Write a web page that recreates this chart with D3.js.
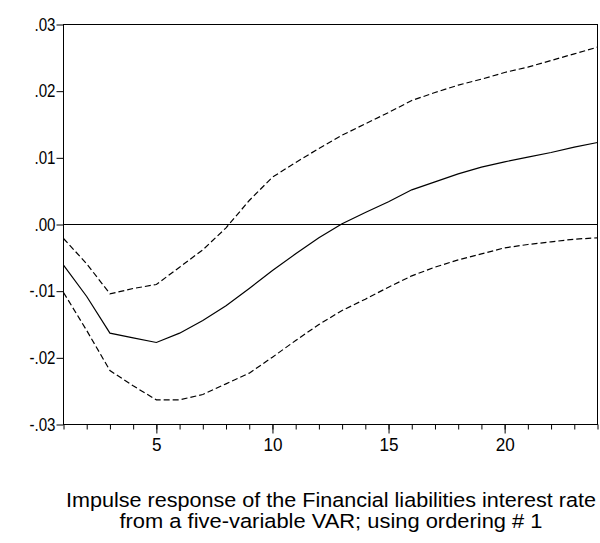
<!DOCTYPE html>
<html>
<head>
<meta charset="utf-8">
<script src="https://cdn.jsdelivr.net/npm/d3@7"></script>
<style>
  html, body { margin: 0; padding: 0; background: #fff; }
  svg { display: block; font-family: "Liberation Sans", Arial, sans-serif; }
</style>
</head>
<body>
<svg id="chart" width="600" height="543"></svg>
<script>
// Horizon (periods after the shock)
const periods = d3.range(1, 25);

// Point estimate of the impulse response
const response = [
  -0.0061, -0.0108, -0.0163, -0.0170, -0.0177, -0.0163, -0.0144, -0.0122,
  -0.0096, -0.0069, -0.0044, -0.0020, 0.0001, 0.0018, 0.0034, 0.0052,
  0.0064, 0.0076, 0.0086, 0.0094, 0.0101, 0.0108, 0.0116, 0.0123
];

// Upper confidence band
const upperBand = [
  -0.0021, -0.0059, -0.0104, -0.0096, -0.0090, -0.0064, -0.0038, -0.0005,
  0.0036, 0.0071, 0.0093, 0.0114, 0.0134, 0.0151, 0.0168, 0.0186,
  0.0198, 0.0209, 0.0218, 0.0228, 0.0236, 0.0246, 0.0256, 0.0266
];

// Lower confidence band
const lowerBand = [
  -0.0102, -0.0159, -0.0219, -0.0242, -0.0263, -0.0263, -0.0255, -0.0239,
  -0.0223, -0.0199, -0.0174, -0.0150, -0.0129, -0.0112, -0.0094, -0.0077,
  -0.0064, -0.0053, -0.0044, -0.0035, -0.0030, -0.0026, -0.0022, -0.0020
];

const yTicks = [0.03, 0.02, 0.01, 0.00, -0.01, -0.02, -0.03];
const yTickLabels = [".03", ".02", ".01", ".00", "-.01", "-.02", "-.03"];
const xMajorTicks = [5, 10, 15, 20];

const titleLines = [
  "Impulse response of the Financial liabilities interest rate",
  "from a five-variable VAR; using ordering # 1"
];

const svg = d3.select("#chart");

const plot = { left: 63.5, right: 597.5, top: 24.5, bottom: 424.5 };

const x = d3.scaleLinear().domain([1, 24]).range([plot.left, plot.right]);
const y = d3.scaleLinear().domain([-0.03, 0.03]).range([plot.bottom, plot.top]);

// Narrow the glyphs of a text selection to a fraction of their natural width
function condense(sel, factor) {
  sel.each(function () {
    const w = this.getComputedTextLength();
    d3.select(this)
      .attr("textLength", w * factor)
      .attr("lengthAdjust", "spacingAndGlyphs");
  });
}

// Zero reference line
svg.append("line")
  .attr("x1", plot.left).attr("x2", plot.right)
  .attr("y1", y(0)).attr("y2", y(0))
  .attr("stroke", "#000").attr("stroke-width", 1);

// Series
const line = d3.line()
  .x((d, i) => x(periods[i]))
  .y(d => y(d));

[upperBand, lowerBand].forEach(band => {
  svg.append("path")
    .datum(band)
    .attr("d", line)
    .attr("fill", "none")
    .attr("stroke", "#000")
    .attr("stroke-width", 1.2)
    .attr("stroke-dasharray", "6,3");
});

svg.append("path")
  .datum(response)
  .attr("d", line)
  .attr("fill", "none")
  .attr("stroke", "#000")
  .attr("stroke-width", 1.2);

// Frame
svg.append("rect")
  .attr("x", plot.left).attr("y", plot.top)
  .attr("width", plot.right - plot.left)
  .attr("height", plot.bottom - plot.top)
  .attr("fill", "none")
  .attr("stroke", "#000")
  .attr("stroke-width", 1);

// Left axis
const yAxis = d3.axisLeft(y)
  .tickValues(yTicks)
  .tickSize(7)
  .tickPadding(1)
  .tickFormat((d, i) => yTickLabels[i]);

svg.append("g")
  .attr("transform", `translate(${plot.left},0)`)
  .call(yAxis)
  .call(g => g.select(".domain").remove())
  .call(g => g.selectAll("line").attr("stroke", "#000"))
  .call(g => g.selectAll("text")
    .attr("font-size", 18)
    .attr("font-family", "'Liberation Sans', Arial, sans-serif")
    .attr("fill", "#000")
    .call(condense, 0.84));

// Bottom axis: minor ticks on every period
svg.append("g")
  .attr("transform", `translate(0,${plot.bottom})`)
  .call(d3.axisBottom(x).tickValues(periods).tickSize(5).tickFormat(""))
  .call(g => g.select(".domain").remove())
  .call(g => g.selectAll("line").attr("stroke", "#000"));

// Bottom axis: labelled major ticks
svg.append("g")
  .attr("transform", `translate(0,${plot.bottom})`)
  .call(d3.axisBottom(x).tickValues(xMajorTicks).tickSize(9).tickPadding(5).tickFormat(d3.format("d")))
  .call(g => g.select(".domain").remove())
  .call(g => g.selectAll("line").attr("stroke", "#000"))
  .call(g => g.selectAll("text")
    .attr("font-size", 18)
    .attr("font-family", "'Liberation Sans', Arial, sans-serif")
    .attr("fill", "#000")
    .call(condense, 0.95));

// Caption
svg.append("g")
  .selectAll("text")
  .data(titleLines)
  .join("text")
  .attr("x", 331)
  .attr("y", (d, i) => 507 + i * 21)
  .attr("text-anchor", "middle")
  .attr("font-size", 20.5)
  .attr("fill", "#000")
  .text(d => d)
  .each(function (d, i) {
    const widths = [530, 423];
    d3.select(this)
      .attr("textLength", widths[i])
      .attr("lengthAdjust", "spacingAndGlyphs");
  });
</script>
</body>
</html>
